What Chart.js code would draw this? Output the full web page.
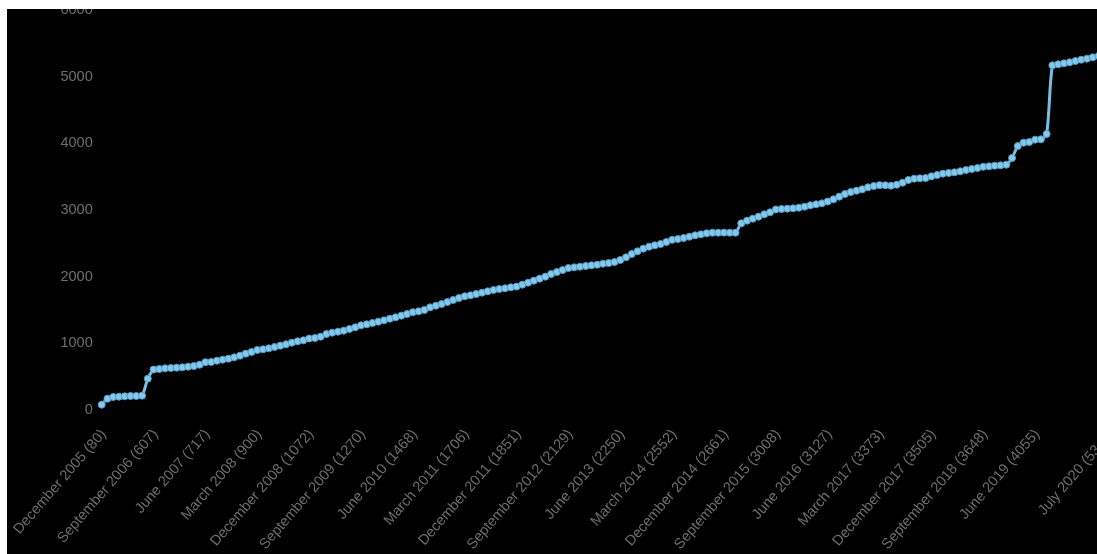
<!DOCTYPE html>
<html>
<head>
<meta charset="utf-8">
<script src="https://cdn.jsdelivr.net/npm/chart.js@4.4.1/dist/chart.umd.min.js"></script>
<style>
  html, body { margin: 0; padding: 0; background: #fff; overflow: hidden; }
  #frame { position: absolute; left: 7px; top: 9px; width: 1090px; height: 545px; background: #000; overflow: hidden; }
  #wrap { position: absolute; left: 0; top: -19px; width: 1115px; height: 570px; }
</style>
</head>
<body>
<div id="frame"><div id="wrap"><canvas id="growthChart"></canvas></div></div>
<script>
// months run from December 2005, one point per month
const firstYear = 2005;
const firstMonth = 11; // December
const monthNames = ['January', 'February', 'March', 'April', 'May', 'June', 'July',
  'August', 'September', 'October', 'November', 'December'];

// cumulative count per month
const totals = [
  80, 170, 195, 200, 205, 210, 210, 215, 470, 607,
  615, 625, 630, 635, 640, 650, 660, 680, 717, 720,
  740, 755, 770, 790, 815, 845, 870, 900, 910, 925,
  945, 965, 985, 1010, 1030, 1045, 1072, 1080, 1100, 1140,
  1160, 1175, 1190, 1215, 1240, 1270, 1285, 1305, 1325, 1345,
  1370, 1390, 1415, 1440, 1468, 1480, 1500, 1540, 1565, 1590,
  1620, 1650, 1680, 1706, 1720, 1740, 1760, 1780, 1800, 1815,
  1825, 1840, 1851, 1880, 1910, 1940, 1970, 2000, 2040, 2070,
  2100, 2129, 2140, 2150, 2160, 2170, 2180, 2195, 2205, 2220,
  2250, 2290, 2340, 2380, 2420, 2450, 2470, 2490, 2520, 2552,
  2565, 2580, 2600, 2620, 2635, 2650, 2660, 2660, 2661, 2660,
  2660, 2800, 2840, 2870, 2900, 2935, 2965, 3008, 3015, 3020,
  3025, 3035, 3050, 3070, 3085, 3100, 3127, 3160, 3200, 3240,
  3270, 3290, 3310, 3340, 3360, 3373, 3370, 3365, 3380, 3410,
  3450, 3470, 3475, 3480, 3505, 3525, 3545, 3555, 3565, 3580,
  3600, 3615, 3630, 3648, 3655, 3665, 3670, 3680, 3780, 3960,
  4010, 4020, 4055, 4060, 4140, 5170, 5185, 5200, 5215, 5235,
  5255, 5270, 5290, 5310, 5325, 5340
];

// the labels that are actually written under the axis
const tickLabels = [
  'December 2005 (80)', 'September 2006 (607)', 'June 2007 (717)', 'March 2008 (900)',
  'December 2008 (1072)', 'September 2009 (1270)', 'June 2010 (1468)', 'March 2011 (1706)',
  'December 2011 (1851)', 'September 2012 (2129)', 'June 2013 (2250)', 'March 2014 (2552)',
  'December 2014 (2661)', 'September 2015 (3008)', 'June 2016 (3127)', 'March 2017 (3373)',
  'December 2017 (3505)', 'September 2018 (3648)', 'June 2019 (4055)', 'July 2020 (5340)'
];

const yTicks = [0, 1000, 2000, 3000, 4000, 5000, 6000];

const months = totals.map((_, i) => {
  const m = firstMonth + i;
  return monthNames[m % 12] + ' ' + (firstYear + Math.floor(m / 12));
});

const textColor = '#6e6e6e';
const labelFont = { family: '"Liberation Sans", Arial, sans-serif', size: 14.5 };

new Chart(document.getElementById('growthChart'), {
  type: 'line',
  data: {
    labels: months,
    datasets: [{
      data: totals,
      borderColor: '#79bfe3',
      backgroundColor: '#86c8ea',
      pointBorderColor: '#4f9cc6',
      pointBackgroundColor: '#86c8ea',
      pointRadius: 3.5,
      pointBorderWidth: 1,
      borderWidth: 3,
      tension: 0.3,
      fill: false
    }]
  },
  options: {
    responsive: true,
    maintainAspectRatio: false,
    animation: false,
    layout: { padding: { top: 20, right: 12, left: 0, bottom: 0 } },
    plugins: { legend: { display: false }, tooltip: { enabled: false } },
    scales: {
      x: {
        grid: { display: false, drawTicks: false },
        border: { display: false },
        afterFit: (scale) => {
          scale.height = 150;
          // no extra room for the slanted first/last labels
          scale.paddingLeft = 0;
          scale.paddingRight = 0;
        },
        ticks: {
          autoSkip: false,
          minRotation: 49,
          maxRotation: 49,
          padding: 16,
          labelOffset: 2,
          color: textColor,
          font: labelFont,
          callback: function (value, index) {
            const m = months[index];
            const hit = tickLabels.find(t => t.startsWith(m + ' ('));
            return hit || null;
          }
        }
      },
      y: {
        min: 0,
        max: 6000,
        grid: { display: false, drawTicks: false },
        border: { display: false },
        afterFit: (scale) => { scale.width = 94.7; },
        afterBuildTicks: (scale) => { scale.ticks = yTicks.map(v => ({ value: v })); },
        ticks: {
          padding: 9,
          color: textColor,
          font: labelFont,
          callback: (v) => String(v)
        }
      }
    }
  }
});
</script>
</body>
</html>
